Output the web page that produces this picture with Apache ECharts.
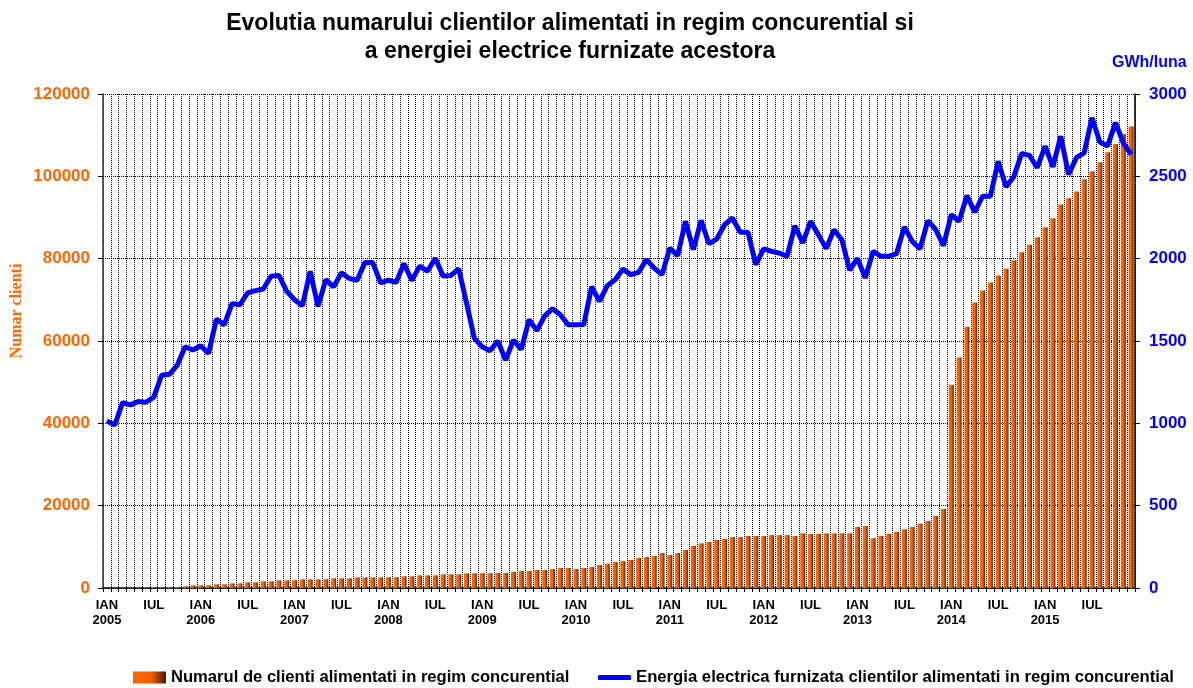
<!DOCTYPE html>
<html>
<head>
<meta charset="utf-8">
<script src="https://cdn.jsdelivr.net/npm/echarts@6/dist/echarts.min.js"></script>
<style>
  html, body { margin: 0; padding: 0; background: #fff; }
  #chart { width: 1193px; height: 688px; }
</style>
</head>
<body>
<div id="chart"></div>
<script>
// luni si ani (ianuarie 2005 - decembrie 2015)
var luni = ['IAN', 'FEB', 'MAR', 'APR', 'MAI', 'IUN', 'IUL', 'AUG', 'SEP', 'OCT', 'NOI', 'DEC'];
var ani = [2005, 2006, 2007, 2008, 2009, 2010, 2011, 2012, 2013, 2014, 2015];

// numarul de clienti alimentati in regim concurential
var clienti2005 = [0, 0, 0, 0, 100, 200, 200, 200, 200, 250, 400, 650];
var clienti2006 = [650, 650, 890, 890, 1130, 1130, 1380, 1380, 1620, 1620, 1860, 1860];
var clienti2007 = [1900, 2100, 2100, 2100, 2150, 2350, 2350, 2350, 2590, 2590, 2590, 2590];
var clienti2008 = [2600, 2650, 2840, 2840, 3080, 3080, 3080, 3320, 3320, 3320, 3560, 3560];
var clienti2009 = [3600, 3600, 3650, 3650, 3890, 4130, 4130, 4370, 4370, 4610, 4860, 4860];
var clienti2010 = [4610, 4860, 5100, 5590, 5910, 6320, 6560, 6800, 7290, 7530, 7770, 8500];
var clienti2011 = [8020, 8500, 9230, 10200, 10850, 11170, 11660, 11900, 12390, 12390, 12630, 12630];
var clienti2012 = [12630, 12870, 12870, 12870, 12630, 13280, 13120, 13120, 13280, 13280, 13280, 13280];
var clienti2013 = [14820, 15060, 12100, 12650, 13140, 13630, 14280, 14840, 15650, 16300, 17520, 19220];
var clienti2014 = [49400, 55980, 63450, 69370, 72290, 74240, 75940, 77560, 79590, 81540, 83410, 85190];
var clienti2015 = [87630, 89820, 93140, 94680, 96310, 99310, 101260, 103450, 105880, 107830, 110260, 112130];

// energia electrica furnizata (GWh/luna)
var energie2005 = [1015, 990, 1126, 1112, 1133, 1128, 1159, 1292, 1298, 1353, 1465, 1445];
var energie2006 = [1471, 1424, 1633, 1598, 1727, 1720, 1792, 1806, 1816, 1894, 1898, 1802];
var energie2007 = [1751, 1714, 1924, 1710, 1873, 1829, 1914, 1880, 1869, 1976, 1976, 1853];
var energie2008 = [1869, 1857, 1971, 1867, 1955, 1924, 2002, 1894, 1898, 1939, 1731, 1516];
var energie2009 = [1465, 1441, 1500, 1384, 1506, 1449, 1629, 1563, 1653, 1696, 1659, 1598];
var energie2010 = [1598, 1600, 1830, 1741, 1836, 1872, 1937, 1903, 1917, 1994, 1943, 1903];
var energie2011 = [2065, 2018, 2227, 2055, 2233, 2091, 2119, 2206, 2247, 2160, 2160, 1964];
var energie2012 = [2059, 2045, 2034, 2014, 2200, 2095, 2227, 2146, 2061, 2176, 2115, 1930];
var energie2013 = [2001, 1883, 2045, 2014, 2014, 2031, 2193, 2106, 2059, 2231, 2177, 2079];
var energie2014 = [2268, 2227, 2383, 2282, 2379, 2379, 2592, 2436, 2497, 2639, 2627, 2552];
var energie2015 = [2684, 2558, 2744, 2511, 2613, 2643, 2856, 2708, 2684, 2826, 2704, 2633];

var yClientiTicks = [0, 20000, 40000, 60000, 80000, 100000, 120000];
var yEnergieTicks = [0, 500, 1000, 1500, 2000, 2500, 3000];

var categorii = [];
ani.forEach(function (an) {
  luni.forEach(function (l) { categorii.push(l + ' ' + an); });
});
var clienti = [].concat(clienti2005, clienti2006, clienti2007, clienti2008, clienti2009, clienti2010,
  clienti2011, clienti2012, clienti2013, clienti2014, clienti2015);
var energie = [].concat(energie2005, energie2006, energie2007, energie2008, energie2009, energie2010,
  energie2011, energie2012, energie2013, energie2014, energie2015);

var numeBare = 'Numarul de clienti alimentati in regim concurential';
var numeLinie = 'Energia electrica furnizata clientilor alimentati in regim concurential';
var orange = '#ff6600';
var blue = '#0000ff';
var font = 'Arial, "Liberation Sans", sans-serif';

var chart = echarts.init(document.getElementById('chart'));
chart.setOption({
  backgroundColor: '#fff',
  animation: false,
  textStyle: { fontFamily: font },
  graphic: [
    {
      type: 'text', x: 570, y: 10,
      style: {
        text: 'Evolutia numarului clientilor alimentati in regim concurential si\na energiei electrice furnizate acestora',
        font: 'bold 23px ' + font, fill: '#000', textAlign: 'center', lineHeight: 28
      }
    },
    {
      type: 'text', x: 1112, y: 63,
      style: { text: 'GWh/luna', font: 'bold 16px ' + font, fill: blue, textVerticalAlign: 'middle' }
    },
    {
      type: 'text', x: 17, y: 311, rotation: Math.PI / 2,
      style: {
        text: 'Numar clienti', font: 'bold 16px "Liberation Serif", "DejaVu Serif", serif',
        fill: orange, textAlign: 'center', textVerticalAlign: 'middle'
      }
    }
  ],
  legend: [
    {
      data: [{ name: numeBare, icon: 'rect' }],
      left: 128, top: 664,
      itemWidth: 33, itemHeight: 12,
      textStyle: { fontSize: 16.6, fontWeight: 'bold', color: '#000', fontFamily: font }
    },
    {
      data: [{ name: numeLinie, icon: 'roundRect' }],
      left: 593, top: 664,
      itemWidth: 33, itemHeight: 5,
      textStyle: { fontSize: 16.7, fontWeight: 'bold', color: '#000', fontFamily: font }
    }
  ],
  grid: { left: 103, right: 58, top: 94, bottom: 100, containLabel: false },
  xAxis: {
    type: 'category',
    data: categorii,
    boundaryGap: true,
    axisLine: { lineStyle: { color: '#000', width: 1.5 } },
    axisTick: { show: true, interval: 0, length: 4, lineStyle: { color: '#000' } },
    splitLine: { show: true, interval: 0, lineStyle: { color: '#000', type: 'dotted', width: 1 } },
    axisLabel: {
      interval: 0, margin: 10, color: '#000', fontSize: 13, fontWeight: 'bold', lineHeight: 15,
      formatter: function (v) {
        var p = v.split(' ');
        if (p[0] === 'IAN') return 'IAN\n' + p[1];
        if (p[0] === 'IUL') return 'IUL';
        return '';
      }
    }
  },
  yAxis: [
    {
      type: 'value',
      min: yClientiTicks[0], max: yClientiTicks[yClientiTicks.length - 1], interval: 20000,
      axisLine: { show: true, lineStyle: { color: '#333', width: 1.5 } },
      axisTick: { show: true, length: 5, lineStyle: { color: '#000' } },
      splitLine: { show: true, lineStyle: { color: '#000', type: 'dotted', width: 1 } },
      axisLabel: {
        margin: 13, color: orange, fontSize: 17, fontWeight: 'bold',
        formatter: function (v) { return String(v); }
      }
    },
    {
      type: 'value',
      min: yEnergieTicks[0], max: yEnergieTicks[yEnergieTicks.length - 1], interval: 500,
      axisLine: { show: true, lineStyle: { color: '#000', width: 1.5 } },
      axisTick: { show: true, length: 5, lineStyle: { color: '#000' } },
      splitLine: { show: false },
      axisLabel: {
        margin: 14, color: blue, fontSize: 17, fontWeight: 'bold',
        formatter: function (v) { return String(v); }
      }
    }
  ],
  series: [
    {
      name: numeBare,
      type: 'bar',
      yAxisIndex: 0,
      barWidth: 5,
      itemStyle: {
        color: new echarts.graphic.LinearGradient(0, 0, 1, 0, [
          { offset: 0, color: '#ff6a00' },
          { offset: 0.55, color: '#f06000' },
          { offset: 1, color: '#4a1800' }
        ])
      },
      data: clienti,
      z: 2
    },
    {
      name: numeLinie,
      type: 'line',
      yAxisIndex: 1,
      symbol: 'none',
      lineStyle: { color: blue, width: 5 },
      itemStyle: { color: blue },
      data: energie,
      z: 3
    }
  ]
});
</script>
</body>
</html>
